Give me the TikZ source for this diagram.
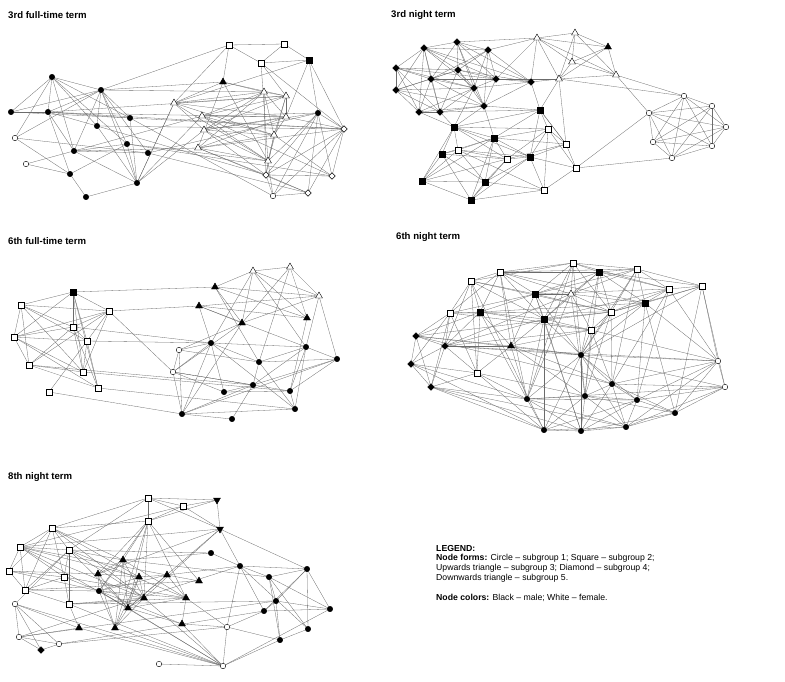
\documentclass[tikz,border=0pt]{standalone}
\usepackage{fontspec}
\setmainfont{Liberation Sans}
\usetikzlibrary{shapes.geometric}
\pgfdeclarelayer{bg}
\pgfsetlayers{bg,main}
\tikzset{
  nd/.style={draw=black, line width=0.4pt, inner sep=0pt, outer sep=0pt},
  cb/.style={nd, circle, fill=black, minimum size=5.5pt},
  cw/.style={nd, circle, fill=white, minimum size=5.5pt},
  sb/.style={nd, rectangle, fill=black, minimum size=5.5pt},
  sw/.style={nd, rectangle, fill=white, minimum size=5.5pt},
  tb/.style={nd, regular polygon, regular polygon sides=3, fill=black, minimum size=8pt},
  tw/.style={nd, regular polygon, regular polygon sides=3, fill=white, minimum size=8pt},
  vb/.style={nd, regular polygon, regular polygon sides=3, shape border rotate=180, fill=black, minimum size=8pt},
  db/.style={nd, diamond, fill=black, minimum size=6.5pt},
  dw/.style={nd, diamond, fill=white, minimum size=6.5pt},
  lnk/.style={draw=black!58, line width=0.3pt},
  ttl/.style={anchor=west, inner sep=0pt, font=\bfseries\fontsize{9.6}{10}\selectfont},
  lgd/.style={anchor=north west, inner sep=0pt, align=left, font=\fontsize{8.7}{9.6}\selectfont}
}
\newcommand{\links}[1]{\begin{pgfonlayer}{bg}\foreach \s/\ts in {#1}{\foreach \t in \ts {\draw[lnk] (\s) -- (\t);}}\end{pgfonlayer}}
\begin{document}
\begin{tikzpicture}[x=1pt,y=-1pt]
\useasboundingbox (0,0) rectangle (785,681);
% titles
\node[ttl] (t1) at (8,15) {3rd full-time term};
\node[ttl] (t2) at (391,15) {3rd night term};
\node[ttl] (t3) at (8,241) {6th full-time term};
\node[ttl] (t4) at (396,237) {6th night term};
\node[ttl] (t5) at (8,477) {8th night term};
% legend
\node[lgd] (lg) at (436,545) {\textbf{LEGEND:}\\
\textbf{Node forms:} Circle -- subgroup 1; Square -- subgroup 2;\\
Upwards triangle -- subgroup 3; Diamond -- subgroup 4;\\
Downwards triangle -- subgroup 5.\\[11pt]
\textbf{Node colors:} Black -- male; White -- female.};

% ---------- Graph 1 ----------
\node[sw] (a1) at (229,45) {};
\node[sw] (a2) at (284,44) {};
\node[sw] (a3) at (261,63) {};
\node[sb] (a4) at (309,60) {};
\node[cb] (a5) at (52,77) {};
\node[tb] (a6) at (223,82) {};
\node[cb] (a7) at (101,90) {};
\node[tw] (a8) at (264,92) {};
\node[tw] (a9) at (286,96) {};
\node[tw] (a10) at (174,103) {};
\node[cb] (a11) at (11,112) {};
\node[cb] (a12) at (48,112) {};
\node[cb] (a13) at (318,113) {};
\node[cb] (a14) at (130,118) {};
\node[cb] (a15) at (97,126) {};
\node[tw] (a16) at (202,116) {};
\node[tw] (a17) at (286,117) {};
\node[dw] (a18) at (344,129) {};
\node[tw] (a19) at (204,130) {};
\node[cw] (a20) at (15,138) {};
\node[tw] (a21) at (274,135) {};
\node[cb] (a22) at (127,144) {};
\node[tw] (a23) at (198,148) {};
\node[cb] (a24) at (74,151) {};
\node[cb] (a25) at (148,153) {};
\node[tw] (a26) at (268,161) {};
\node[cw] (a27) at (26,164) {};
\node[cb] (a28) at (70,174) {};
\node[dw] (a29) at (266,175) {};
\node[dw] (a30) at (332,176) {};
\node[cb] (a31) at (137,183) {};
\node[cw] (a32) at (273,196) {};
\node[dw] (a33) at (308,193) {};
\node[cb] (a34) at (86,197) {};
\links{a1/{a2,a3,a7,a6,a10}, a2/{a3,a4}, a3/{a4,a9,a18,a26}, a4/{a13,a18,a10,a17},
a5/{a11,a12,a7,a15,a24,a20,a14,a22},
a7/{a11,a12,a14,a15,a22,a24,a31,a25,a6,a20,a8},
a11/{a12,a14,a17}, a12/{a14,a15,a24,a28,a18,a9},
a6/{a10,a8,a9,a23,a26}, a10/{a8,a9,a17,a21,a19,a31,a26},
a8/{a9,a16,a17,a19,a21,a23,a29}, a9/{a16,a19,a17,a21,a26}, a16/{a17,a21,a26,a13,a30}, a17/{a19,a23,a21,a18}, a19/{a21,a26,a29,a13}, a21/{a23,a26,a29,a30}, a23/{a26,a29,a33,a18},
a13/{a18,a26,a29,a30,a33,a32}, a18/{a30,a33,a29,a32}, a26/{a29,a32}, a29/{a30,a32,a33}, a32/{a33},
a31/{a14,a15,a22,a24,a34,a16,a19,a10},
a24/{a22,a25,a23}, a27/{a28,a16}, a28/{a22,a34}, a20/{a28,a25},
a14/{a32,a18}, a15/{a29,a18}, a22/{a26,a30}, a25/{a33,a13}}

% ---------- Graph 2 ----------
\node[db] (b1) at (424,48) {};
\node[db] (b2) at (457,42) {};
\node[tw] (b3) at (537,38) {};
\node[tw] (b4) at (575,33) {};
\node[tb] (b5) at (608,47) {};
\node[db] (b6) at (488,50) {};
\node[db] (b7) at (396,68) {};
\node[db] (b8) at (458,70) {};
\node[db] (b9) at (431,79) {};
\node[db] (b10) at (496,79) {};
\node[db] (b11) at (531,82) {};
\node[db] (b12) at (474,88) {};
\node[tw] (b13) at (559,79) {};
\node[tw] (b14) at (572,62) {};
\node[tw] (b15) at (616,75) {};
\node[db] (b16) at (396,90) {};
\node[db] (b17) at (484,106) {};
\node[db] (b18) at (419,112) {};
\node[db] (b19) at (440,112) {};
\node[sb] (b20) at (540,110) {};
\node[cw] (b21) at (684,96) {};
\node[cw] (b22) at (712,106) {};
\node[cw] (b23) at (649,113) {};
\node[cw] (b24) at (726,127) {};
\node[sb] (b25) at (454,127) {};
\node[sw] (b26) at (548,129) {};
\node[sb] (b27) at (494,138) {};
\node[cw] (b28) at (653,142) {};
\node[cw] (b29) at (712,146) {};
\node[sw] (b30) at (566,144) {};
\node[sb] (b31) at (442,154) {};
\node[sw] (b32) at (458,150) {};
\node[cw] (b33) at (672,158) {};
\node[sw] (b34) at (507,159) {};
\node[sb] (b35) at (530,157) {};
\node[sw] (b36) at (576,168) {};
\node[sb] (b37) at (422,181) {};
\node[sb] (b38) at (485,182) {};
\node[sw] (b39) at (544,190) {};
\node[sb] (b40) at (471,200) {};
\links{b1/{b2,b6,b7,b8,b9,b10,b12,b16,b18,b19,b11},
b2/{b6,b8,b9,b10,b12,b17,b11,b3},
b6/{b8,b10,b12,b17,b9,b3,b11},
b7/{b8,b9,b16,b18,b19,b12,b10},
b8/{b9,b10,b12,b16,b17,b19,b11},
b9/{b10,b12,b16,b18,b19,b17},
b10/{b11,b12,b17,b3,b13},
b11/{b12,b17,b13,b20,b3},
b12/{b16,b17,b18,b19,b25},
b16/{b18,b19,b17}, b17/{b18,b19,b20,b25,b27}, b18/{b19,b25}, b19/{b25,b20},
b3/{b4,b5,b13,b14,b15}, b4/{b5,b14,b13,b15}, b5/{b14,b15,b13}, b13/{b14,b15,b20,b21}, b14/{b15},
b15/{b23,b21},
b21/{b22,b23,b24,b28,b29,b33}, b22/{b23,b24,b28,b29,b33}, b23/{b24,b28,b29,b33}, b24/{b28,b29,b33}, b28/{b29,b33}, b29/{b33},
b36/{b23,b33,b26,b30,b39,b35}, b30/{b26,b20,b34,b27,b13},
b20/{b26,b27,b25,b35,b30},
b25/{b27,b31,b32,b37,b34,b35,b26},
b26/{b27,b35,b34,b39},
b27/{b31,b32,b34,b35,b38,b37,b40},
b31/{b32,b37,b38,b34,b40},
b32/{b34,b37,b38,b35,b39},
b34/{b35,b38,b40,b37},
b35/{b38,b39,b40,b30},
b37/{b38,b40}, b38/{b39,b40}, b39/{b40}}

% ---------- Graph 3 ----------
\node[tw] (c1) at (253,271) {};
\node[tw] (c2) at (290,267) {};
\node[sb] (c3) at (73,292) {};
\node[tb] (c4) at (215,287) {};
\node[sw] (c5) at (21,305) {};
\node[tw] (c6) at (319,296) {};
\node[tb] (c7) at (199,306) {};
\node[sw] (c8) at (109,311) {};
\node[tb] (c9) at (307,318) {};
\node[tb] (c10) at (242,323) {};
\node[sw] (c11) at (73,327) {};
\node[sw] (c12) at (14,337) {};
\node[sw] (c13) at (87,341) {};
\node[cb] (c14) at (211,343) {};
\node[cb] (c15) at (306,347) {};
\node[cw] (c16) at (179,350) {};
\node[cb] (c17) at (259,362) {};
\node[cb] (c18) at (337,359) {};
\node[sw] (c19) at (29,365) {};
\node[sw] (c20) at (83,372) {};
\node[cw] (c21) at (173,372) {};
\node[cb] (c22) at (253,385) {};
\node[sw] (c23) at (98,388) {};
\node[cb] (c24) at (224,392) {};
\node[cb] (c25) at (290,391) {};
\node[sw] (c26) at (49,392) {};
\node[cb] (c27) at (295,409) {};
\node[cb] (c28) at (182,414) {};
\node[cb] (c29) at (232,419) {};
\links{c3/{c4,c5,c8,c11,c12,c13,c20,c23},
c5/{c12,c8,c11,c13,c19,c20},
c12/{c19,c8,c13,c11,c23,c20},
c8/{c11,c13,c7,c19,c20,c21},
c11/{c13,c19,c20,c23,c14},
c13/{c14,c20,c23,c26},
c19/{c20,c23,c22}, c20/{c25}, c23/{c27}, c26/{c28},
c1/{c2,c4,c6,c9,c10,c14,c15}, c2/{c6,c9,c10,c17},
c4/{c6,c9,c10,c17}, c7/{c9,c6,c10,c14,c15}, c6/{c15,c18,c10}, c10/{c16,c28,c21}, c9/{c25},
c14/{c16,c17,c21,c24,c28,c15,c27},
c15/{c17,c22,c25,c27,c18},
c17/{c18,c22,c27}, c18/{c22,c25,c28},
c21/{c22,c28,c25}, c16/{c17,c21,c28},
c22/{c28,c29,c24}, c24/{c25,c21}, c25/{c27}, c28/{c29,c27}}

% ---------- Graph 4 ----------
\node[sw] (d1) at (573,263) {};
\node[sb] (d2) at (599,272) {};
\node[sw] (d3) at (637,269) {};
\node[sw] (d4) at (500,272) {};
\node[sw] (d5) at (471,281) {};
\node[sw] (d6) at (702,286) {};
\node[sw] (d7) at (669,289) {};
\node[sb] (d8) at (535,294) {};
\node[tw] (d9) at (571,294) {};
\node[sb] (d10) at (645,303) {};
\node[sb] (d11) at (480,312) {};
\node[sw] (d12) at (450,313) {};
\node[sw] (d13) at (611,312) {};
\node[sb] (d14) at (544,319) {};
\node[sw] (d15) at (591,330) {};
\node[db] (d16) at (416,336) {};
\node[db] (d17) at (445,346) {};
\node[tb] (d18) at (511,346) {};
\node[cb] (d19) at (581,355) {};
\node[db] (d20) at (411,364) {};
\node[cw] (d21) at (718,361) {};
\node[sw] (d22) at (477,373) {};
\node[db] (d23) at (431,387) {};
\node[cb] (d24) at (612,384) {};
\node[cw] (d25) at (725,387) {};
\node[cb] (d26) at (527,399) {};
\node[cb] (d27) at (585,396) {};
\node[cb] (d28) at (637,400) {};
\node[cb] (d29) at (675,413) {};
\node[cb] (d30) at (544,430) {};
\node[cb] (d31) at (581,431) {};
\node[cb] (d32) at (626,427) {};
\links{d1/{d2,d3,d4,d5,d8,d9,d14,d19,d26,d13,d7},
d2/{d3,d4,d8,d9,d10,d13,d14,d19,d27,d7,d6},
d3/{d4,d6,d7,d10,d13,d19,d24,d9},
d4/{d5,d8,d9,d11,d12,d14,d18,d26,d10},
d5/{d8,d11,d12,d14,d17,d22,d30,d13},
d6/{d7,d10,d21,d25,d19,d13,d29},
d7/{d10,d13,d21,d24,d28,d8,d14},
d8/{d9,d11,d12,d14,d18,d19,d13,d31,d3},
d9/{d10,d14,d15,d13,d17,d27,d26},
d10/{d13,d15,d19,d21,d28,d29,d11},
d11/{d12,d14,d16,d17,d18,d22,d26,d15},
d12/{d16,d17,d20,d22,d23,d15,d13},
d13/{d14,d15,d19,d24,d27,d16},
d14/{d15,d18,d19,d26,d30,d31,d17},
d15/{d17,d18,d19,d24,d27,d21},
d16/{d17,d20,d23,d18,d19,d24},
d17/{d20,d23,d18,d22,d19,d21},
d18/{d19,d22,d26,d27,d24},
d19/{d24,d26,d27,d28,d30,d31,d32,d21,d25},
d20/{d23,d26,d30,d22},
d21/{d25,d24,d28,d29,d32},
d22/{d26,d27,d30,d23},
d23/{d26,d30,d31,d32},
d24/{d27,d28,d29,d31,d32,d25},
d25/{d28,d29,d32,d26},
d26/{d27,d30,d31,d32,d28},
d27/{d28,d30,d31,d32,d29},
d28/{d29,d31,d32,d30},
d29/{d32,d31}, d30/{d31,d32}, d31/{d32}}

% ---------- Graph 5 ----------
\node[sw] (e1) at (148,498) {};
\node[vb] (e2) at (217,500) {};
\node[sw] (e3) at (183,506) {};
\node[sw] (e4) at (148,521) {};
\node[vb] (e5) at (220,529) {};
\node[sw] (e6) at (52,528) {};
\node[sw] (e7) at (20,547) {};
\node[sw] (e8) at (69,550) {};
\node[cb] (e9) at (211,553) {};
\node[tb] (e10) at (123,560) {};
\node[cb] (e11) at (240,566) {};
\node[cb] (e12) at (307,569) {};
\node[sw] (e13) at (9,571) {};
\node[tb] (e14) at (98,574) {};
\node[tb] (e15) at (139,577) {};
\node[tb] (e16) at (167,575) {};
\node[sw] (e17) at (64,577) {};
\node[cb] (e18) at (269,577) {};
\node[tb] (e19) at (199,581) {};
\node[sw] (e20) at (25,590) {};
\node[cb] (e21) at (99,591) {};
\node[tb] (e22) at (144,598) {};
\node[tb] (e23) at (186,598) {};
\node[cb] (e24) at (276,601) {};
\node[cw] (e25) at (15,604) {};
\node[sw] (e26) at (69,604) {};
\node[tb] (e27) at (128,608) {};
\node[cb] (e28) at (330,609) {};
\node[cb] (e29) at (264,611) {};
\node[tb] (e30) at (79,628) {};
\node[tb] (e31) at (115,628) {};
\node[tb] (e32) at (182,624) {};
\node[cw] (e33) at (227,627) {};
\node[cb] (e34) at (308,629) {};
\node[cw] (e35) at (19,637) {};
\node[cw] (e36) at (59,644) {};
\node[cb] (e37) at (280,640) {};
\node[db] (e38) at (41,650) {};
\node[cw] (e39) at (159,664) {};
\node[cw] (e40) at (223,666) {};
\links{e1/{e2,e3,e4,e5,e6,e8}, e2/{e3,e5,e4}, e3/{e4,e5,e7},
e4/{e6,e10,e14,e21,e22,e27,e31,e19,e23}, e5/{e11,e12,e27,e22,e14,e7},
e6/{e7,e8,e13,e17,e20,e10,e15,e22}, e7/{e8,e13,e17,e20,e15,e22,e16,e27},
e8/{e17,e26,e20,e10,e9,e22,e27,e23}, e13/{e17,e20,e21,e14}, e17/{e20,e26,e23,e32},
e20/{e26,e21,e19}, e26/{e23,e24,e22,e30},
e10/{e14,e21,e27,e31,e22,e23,e18,e9}, e14/{e15,e21,e27,e31}, e15/{e16,e21,e22,e27,e31},
e16/{e19,e11,e27,e23}, e21/{e22,e27,e31,e23,e16}, e22/{e27,e31}, e27/{e31,e32,e23}, e23/{e32,e33},
e9/{e11}, e11/{e12,e18,e29,e33,e34}, e12/{e18,e24,e28,e34,e29}, e18/{e24,e28,e37,e34},
e24/{e28,e37,e29}, e29/{e28,e33}, e33/{e40,e32,e37}, e37/{e34,e40},
e39/{e40}, e40/{e30,e25,e32,e31,e27,e22,e28,e26,e21}, e25/{e35,e36,e38,e30,e8}, e35/{e36,e38,e30,e11,e24}, e36/{e38,e33,e29}}
\end{tikzpicture}
\end{document}
